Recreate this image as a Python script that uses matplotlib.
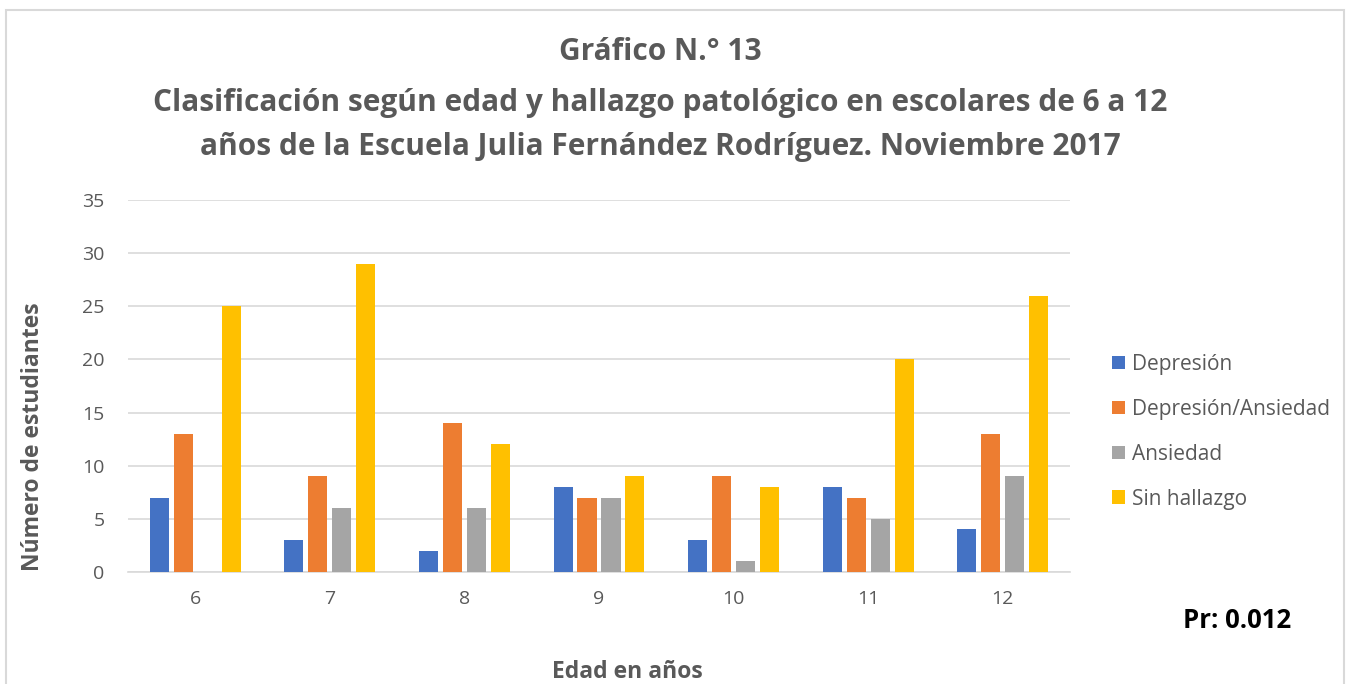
import matplotlib.pyplot as plt
from matplotlib.patches import Rectangle
import numpy as np

plt.rcParams['font.family'] = ['Open Sans', 'DejaVu Sans']

edades = ['6', '7', '8', '9', '10', '11', '12']
depresion = [7, 3, 2, 8, 3, 8, 4]
dep_ansiedad = [13, 9, 14, 7, 9, 7, 13]
ansiedad = [0, 6, 6, 7, 1, 5, 9]
sin_hallazgo = [25, 29, 12, 9, 8, 20, 26]

series = [('Depresión', depresion, '#4472C4'),
          ('Depresión/Ansiedad', dep_ansiedad, '#ED7D31'),
          ('Ansiedad', ansiedad, '#A5A5A5'),
          ('Sin hallazgo', sin_hallazgo, '#FFC000')]

W, H = 1347, 684
fig = plt.figure(figsize=(W / 100, H / 100), dpi=100)
# chart border
fig.patches.append(Rectangle((6 / W, -0.01), (1338) / W, 1 - 10 / H + 0.01,
                             transform=fig.transFigure, fill=False,
                             edgecolor='#d9d9d9', lw=1.5))

ax = fig.add_axes([128 / W, 1 - 572 / H, 942 / W, 372 / H])
x = np.arange(len(edades))
step = 0.178
for i, (name, vals, col) in enumerate(series):
    ax.bar(x + (i - 1.5) * step, vals, width=0.142, color=col, label=name, zorder=3)

ax.set_xlim(-0.5, len(edades) - 0.5)
ax.set_ylim(0, 35)
ax.set_yticks(range(0, 36, 5))
ax.set_xticks(x)
ax.set_xticklabels(edades)
ax.tick_params(length=0, labelsize=14, colors='#595959')
ax.tick_params(axis='x', pad=13)
ax.tick_params(axis='y', pad=17)
ax.grid(axis='y', color='#d9d9d9', lw=1.2, zorder=0)
for s in ['top', 'right', 'left']:
    ax.spines[s].set_visible(False)
ax.spines['bottom'].set_color('#d9d9d9')
ax.spines['bottom'].set_linewidth(1.2)

tc = '#595959'
fig.text(660 / W, 1 - 52 / H, 'Gráfico N.° 13', ha='center', va='center',
         fontsize=21.5, fontweight='bold', color=tc)
fig.text(660 / W, 1 - 103 / H,
         'Clasificación según edad y hallazgo patológico en escolares de 6 a 12',
         ha='center', va='center', fontsize=21.5, fontweight='bold', color=tc)
fig.text(660 / W, 1 - 147 / H,
         'años de la Escuela Julia Fernández Rodríguez. Noviembre 2017',
         ha='center', va='center', fontsize=21.5, fontweight='bold', color=tc)

fig.text(33 / W, 1 - 437 / H, 'Número de estudiantes', rotation=90,
         ha='center', va='center', fontsize=16.5, fontweight='bold', color=tc)
fig.text(627 / W, 1 - 672 / H, 'Edad en años', ha='center', va='center',
         fontsize=16.5, fontweight='bold', color=tc)
fig.text(1237 / W, 1 - 621 / H, 'Pr: 0.012', ha='center', va='center',
         fontsize=18.5, fontweight='bold', color='black')

fig.legend(loc='upper left', bbox_to_anchor=(1093 / W, 1 - 335 / H),
           frameon=False, fontsize=15, handlelength=0.63, handleheight=0.63,
           handletextpad=0.33, labelspacing=1.15, labelcolor=tc)

fig.savefig('out.png', dpi=100)
